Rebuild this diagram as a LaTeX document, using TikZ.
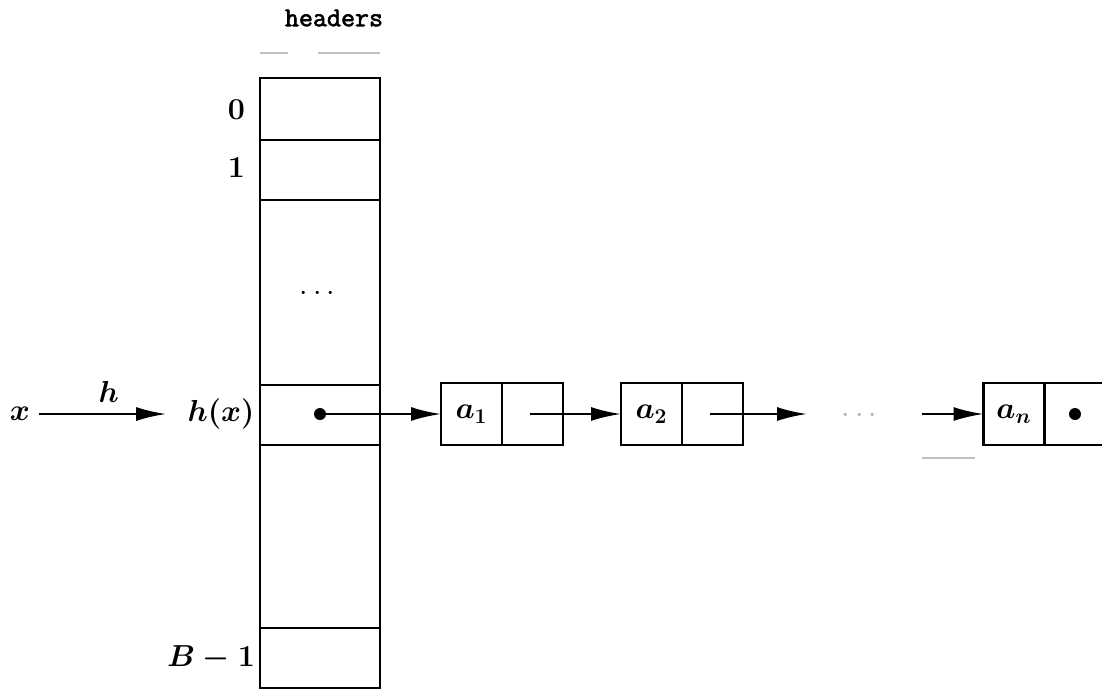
\documentclass[tikz,border=0pt]{standalone}
\usepackage{amsmath,amssymb}
\usepackage{fontspec}
\usepackage{tikz}
\usetikzlibrary{positioning,arrows.meta}
\newfontfamily\hdrfont{Latin Modern Mono}[AutoFakeBold=2.2]
\tikzset{%
  cell/.style={draw, rectangle, line width=1.5pt, inner sep=0pt, outer sep=0pt,
    minimum width=2.4cm},% header cell
  field/.style={draw, rectangle, line width=1.5pt, inner sep=0pt, outer sep=0pt,
    minimum width=1.22cm, minimum height=1.24cm, font=\fontsize{18}{20}\selectfont\boldmath},% list field
  lbl/.style={font=\fontsize{18}{20}\selectfont\boldmath, inner sep=1pt},% math labels
  link/.style={line width=1.3pt, -{Latex[length=6mm,width=2.8mm]}},% pointer arrow
  ptr/.style={circle, fill, inner sep=0pt, minimum size=2.4mm},% pointer dot
  scan/.style={black!25, line width=0.8pt}% faint marks
}
\begin{document}
\begin{tikzpicture}[x=0.02cm, y=-0.02cm]
\useasboundingbox (0,0) rectangle (1102,690);

% header table
\node[font=\fontsize{15.5}{17}\selectfont\hdrfont\bfseries] (title) at (334,18) {headers};
\draw[scan] (260,53) -- (288,53);
\draw[scan] (318,53) -- (380,53);

\node[cell, minimum height=1.24cm] (h0) at (320,109) {};
\node[cell, minimum height=1.2cm] (h1) at (320,170) {};
\node[cell, minimum height=3.7cm] (hdots) at (320,292.5) {};
\node[font=\LARGE] at (320,294) {$\cdots$};
\node[cell, minimum height=1.2cm] (hx) at (320,415) {};
\node[cell, minimum height=3.66cm] (hrest) at (320,536.5) {};
\node[cell, minimum height=1.2cm] (hB) at (320,658) {};

\node[lbl, anchor=east] (l0) at (247,110) {$0$};
\node[lbl, anchor=east] (l1) at (247,168) {$1$};
\node[lbl, anchor=east] (lB) at (257,658) {$B-1$};

% hashing x
\node[lbl] (x) at (20,414) {$x$};
\node[lbl] (hxl) at (221,414) {$h(x)$};
\draw[link, shorten <=4pt, shorten >=11pt] (x) -- node[lbl, above=5pt] {$h$} (hxl);

% chain
\node[ptr] (d0) at (320,414) {};
\node[field] (a1) at (471.5,414) {$a_1$};
\node[field, right=0pt of a1] (p1) {};
\node[field] (a2) at (651.5,414) {$a_2$};
\node[field, right=0pt of a2] (p2) {};
\node[font=\LARGE, text=black!30] (gap) at (862,416) {$\cdots$};
\coordinate (e2) at (807,414);
\coordinate (sn) at (922,414);
\node[field] (an) at (1014,414) {$a_n$};
\node[field, right=0pt of an] (pn) {};
\node[ptr] (dn) at (pn.center) {};

\draw[link] (d0) -- (a1);
\draw[link] (p1.center) ++(-2,0) -- (a2);
\draw[link] (p2.center) ++(-2,0) -- (e2);
\draw[link] (sn) -- (an);
\draw[scan] (922,458) -- (975,458);

\end{tikzpicture}
\end{document}
